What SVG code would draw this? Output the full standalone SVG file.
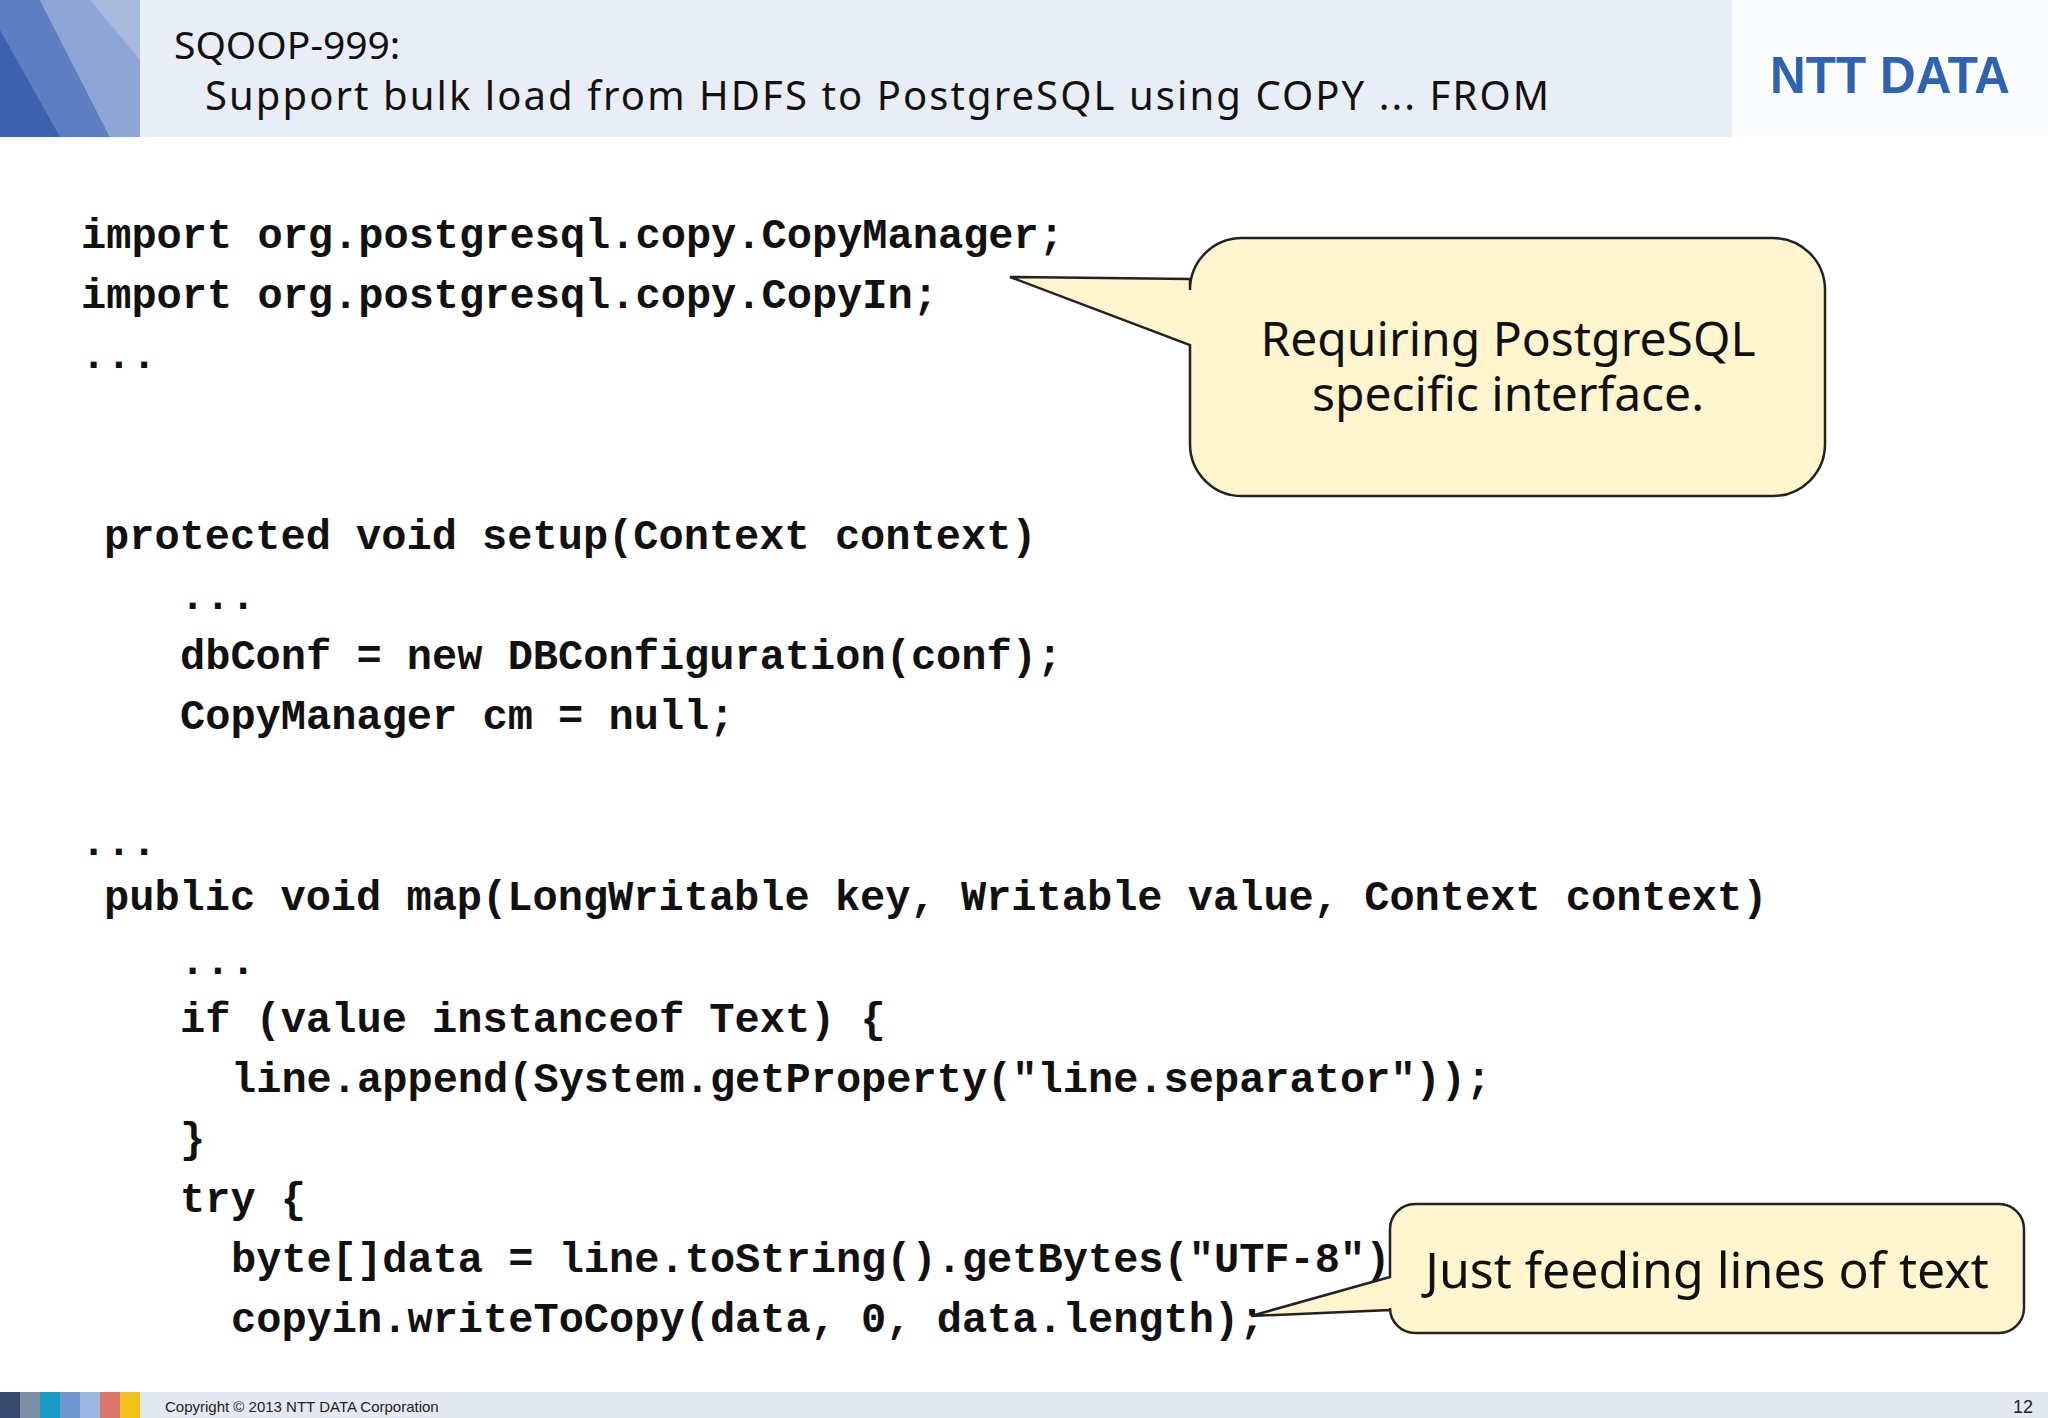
<svg xmlns="http://www.w3.org/2000/svg" width="2048" height="1418" viewBox="0 0 2048 1418">
<style>
.code{font-family:"Liberation Mono","DejaVu Sans Mono",monospace;font-weight:bold;font-size:42px;fill:#111}
.call{fill:#fff6cf;stroke:#222;stroke-width:2.5}
.ct{font-family:"Noto Sans","DejaVu Sans",sans-serif;fill:#111;text-anchor:middle}
</style>
<rect width="2048" height="1418" fill="#fff"/>
<g id="header">
<rect x="0" y="0" width="2048" height="137" fill="#fbfcfe"/>
<rect x="140" y="0" width="1592" height="137" fill="#e9eef6"/>
<rect x="0" y="0" width="140" height="137" fill="#a9b9dc"/>
<polygon points="0,0 40,0 110,137 20,137 0,90" fill="#5d7fc2"/>
<polygon points="40,0 90,0 140,60 140,137 110,137" fill="#8ea6d6"/>
<polygon points="0,30 60,137 0,137" fill="#3e62b0"/>
<text x="174" y="59" font-family="'Noto Sans',sans-serif" font-size="39" fill="#111">SQOOP-999:</text>
<text x="205" y="110" font-family="'Noto Sans',sans-serif" font-size="40" fill="#111" textLength="1344" lengthAdjust="spacing">Support bulk load from HDFS to PostgreSQL using COPY ... FROM</text>
<text x="1770" y="93" font-family="'Liberation Sans',sans-serif" font-weight="bold" font-size="52" fill="#2f62b0" textLength="240" lengthAdjust="spacingAndGlyphs">NTT DATA</text>
</g>
<g id="code">
<text class="code" x="81" y="248">import org.postgresql.copy.CopyManager;</text>
<text class="code" x="81" y="308">import org.postgresql.copy.CopyIn;</text>
<text class="code" x="81" y="368">...</text>
<text class="code" x="104" y="549">protected void setup(Context context)</text>
<text class="code" x="180" y="609">...</text>
<text class="code" x="180" y="669">dbConf = new DBConfiguration(conf);</text>
<text class="code" x="180" y="729">CopyManager cm = null;</text>
<text class="code" x="81" y="855">...</text>
<text class="code" x="104" y="910">public void map(LongWritable key, Writable value, Context context)</text>
<text class="code" x="180" y="974">...</text>
<text class="code" x="180" y="1032">if (value instanceof Text) {</text>
<text class="code" x="231" y="1092">line.append(System.getProperty("line.separator"));</text>
<text class="code" x="180" y="1152">}</text>
<text class="code" x="180" y="1212">try {</text>
<text class="code" x="231" y="1272">byte[]data = line.toString().getBytes("UTF-8");</text>
<text class="code" x="231" y="1332">copyin.writeToCopy(data, 0, data.length);</text>
</g>
<g id="callout1">
<path class="call" d="M1242,238 H1773 A52,52 0 0 1 1825,290 V444 A52,52 0 0 1 1773,496 H1242 A52,52 0 0 1 1190,444 V345 L1010,277 L1190,279 V290 A52,52 0 0 1 1242,238 Z"/>
<text class="ct" x="1508" y="356" font-size="48">Requiring PostgreSQL</text>
<text class="ct" x="1508" y="411" font-size="48">specific interface.</text>
</g>
<g id="callout2">
<path class="call" d="M1415,1204 H1999 A25,25 0 0 1 2024,1229 V1308 A25,25 0 0 1 1999,1333 H1415 A25,25 0 0 1 1390,1308 V1310 L1251,1316 L1390,1277 V1229 A25,25 0 0 1 1415,1204 Z"/>
<text class="ct" x="1707" y="1288" font-size="50">Just feeding lines of text</text>
</g>
<g id="footer">
<rect x="0" y="1392" width="2048" height="26" fill="#e4e9f1"/>
<rect x="0" y="1392" width="20" height="26" fill="#3a4a6e"/>
<rect x="20" y="1392" width="20" height="26" fill="#7d8ea6"/>
<rect x="40" y="1392" width="20" height="26" fill="#1a9ac9"/>
<rect x="60" y="1392" width="20" height="26" fill="#6f95d0"/>
<rect x="80" y="1392" width="20" height="26" fill="#9ab8e0"/>
<rect x="100" y="1392" width="20" height="26" fill="#d9776a"/>
<rect x="120" y="1392" width="20" height="26" fill="#f2c21a"/>
<text x="165" y="1412" font-family="'Liberation Sans',sans-serif" font-size="15" fill="#222">Copyright © 2013 NTT DATA Corporation</text>
<text x="2033" y="1413" font-family="'Liberation Sans',sans-serif" font-size="18" fill="#222" text-anchor="end">12</text>
</g>
</svg>
